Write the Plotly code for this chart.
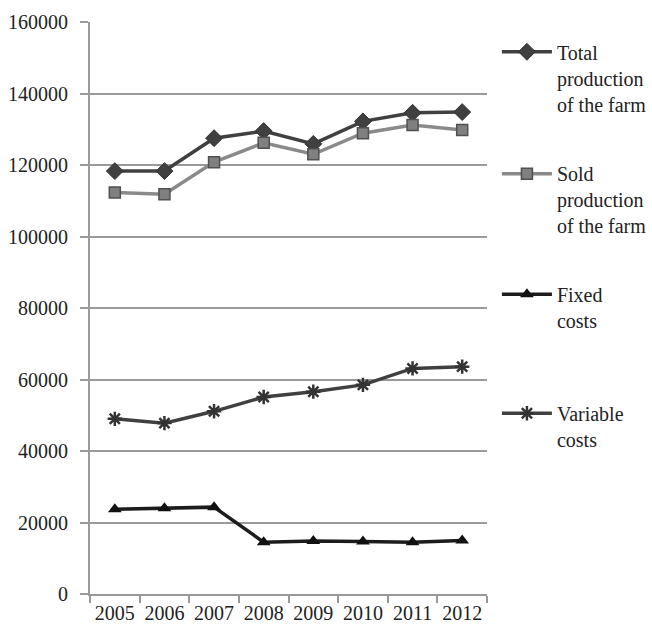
import plotly.graph_objects as go

years = ["2005", "2006", "2007", "2008", "2009", "2010", "2011", "2012"]
total_production = [118300, 118300, 127500, 129500, 125900, 132200, 134600, 134800]
sold_production = [112300, 111800, 120800, 126200, 123000, 128900, 131200, 129800]
fixed_costs = [23700, 24000, 24300, 14500, 14800, 14700, 14500, 15000]
variable_costs = [49000, 47800, 51100, 55100, 56600, 58500, 63100, 63600]
y_ticks = [0, 20000, 40000, 60000, 80000, 100000, 120000, 140000, 160000]

names = ["Total<br>production<br>of the farm", "Sold<br>production<br>of the farm",
         "Fixed<br>costs", "Variable<br>costs"]

fig = go.Figure()
fig.add_trace(go.Scatter(x=years, y=total_production, name=names[0], mode="lines+markers",
                         line=dict(color="#404040", width=3.5),
                         marker=dict(symbol="diamond", size=13, color="#404040",
                                     line=dict(color="#333333", width=1)),
                         legend="legend"))
fig.add_trace(go.Scatter(x=years, y=sold_production, name=names[1], mode="lines+markers",
                         line=dict(color="#8a8a8a", width=3.5),
                         marker=dict(symbol="square", size=11, color="#808080",
                                     line=dict(color="#505050", width=1.5)),
                         legend="legend2"))
fig.add_trace(go.Scatter(x=years, y=fixed_costs, name=names[2], mode="lines+markers",
                         line=dict(color="#1c1c1c", width=3.5),
                         marker=dict(symbol="triangle-up", size=12, color="#111111"),
                         legend="legend3"))
fig.add_trace(go.Scatter(x=years, y=variable_costs, name=names[3], mode="lines+markers",
                         line=dict(color="#404040", width=3.5),
                         marker=dict(symbol="asterisk-open", size=12, color="#333333",
                                     line=dict(color="#333333", width=2.5)),
                         legend="legend4"))

font = dict(family="'Liberation Serif', 'Times New Roman', serif", size=20, color="#222222")
leg_common = dict(x=1.025, xanchor="left", yanchor="top", font=font, valign="top",
                  bgcolor="rgba(0,0,0,0)", itemwidth=50)

fig.update_layout(
    width=652, height=626,
    margin=dict(l=90, r=165, t=22, b=32, autoexpand=False),
    plot_bgcolor="white", paper_bgcolor="white",
    font=font,
    showlegend=True,
    legend=dict(y=0.982, **leg_common),
    legend2=dict(y=0.769, **leg_common),
    legend3=dict(y=0.558, **leg_common),
    legend4=dict(y=0.350, **leg_common),
    xaxis=dict(type="category", tickson="boundaries", ticks="outside", ticklen=7,
               tickcolor="#999999", tickwidth=2, showline=True, linecolor="#999999",
               linewidth=2, showgrid=False, tickfont=font, range=[-0.5, 7.5],
               tickangle=0),
    yaxis=dict(range=[0, 160000], tickvals=y_ticks, ticktext=[str(v) for v in y_ticks],
               ticks="outside", ticklen=8, tickcolor="#999999", tickwidth=2,
               showline=True, linecolor="#999999", linewidth=2,
               showgrid=True, gridcolor="#9a9a9a", gridwidth=2, zeroline=False,
               tickfont=font, ticklabelstandoff=8),
)

fig.write_html("out.html", config={"displayModeBar": False},
               post_script="document.body.style.margin='0';")
